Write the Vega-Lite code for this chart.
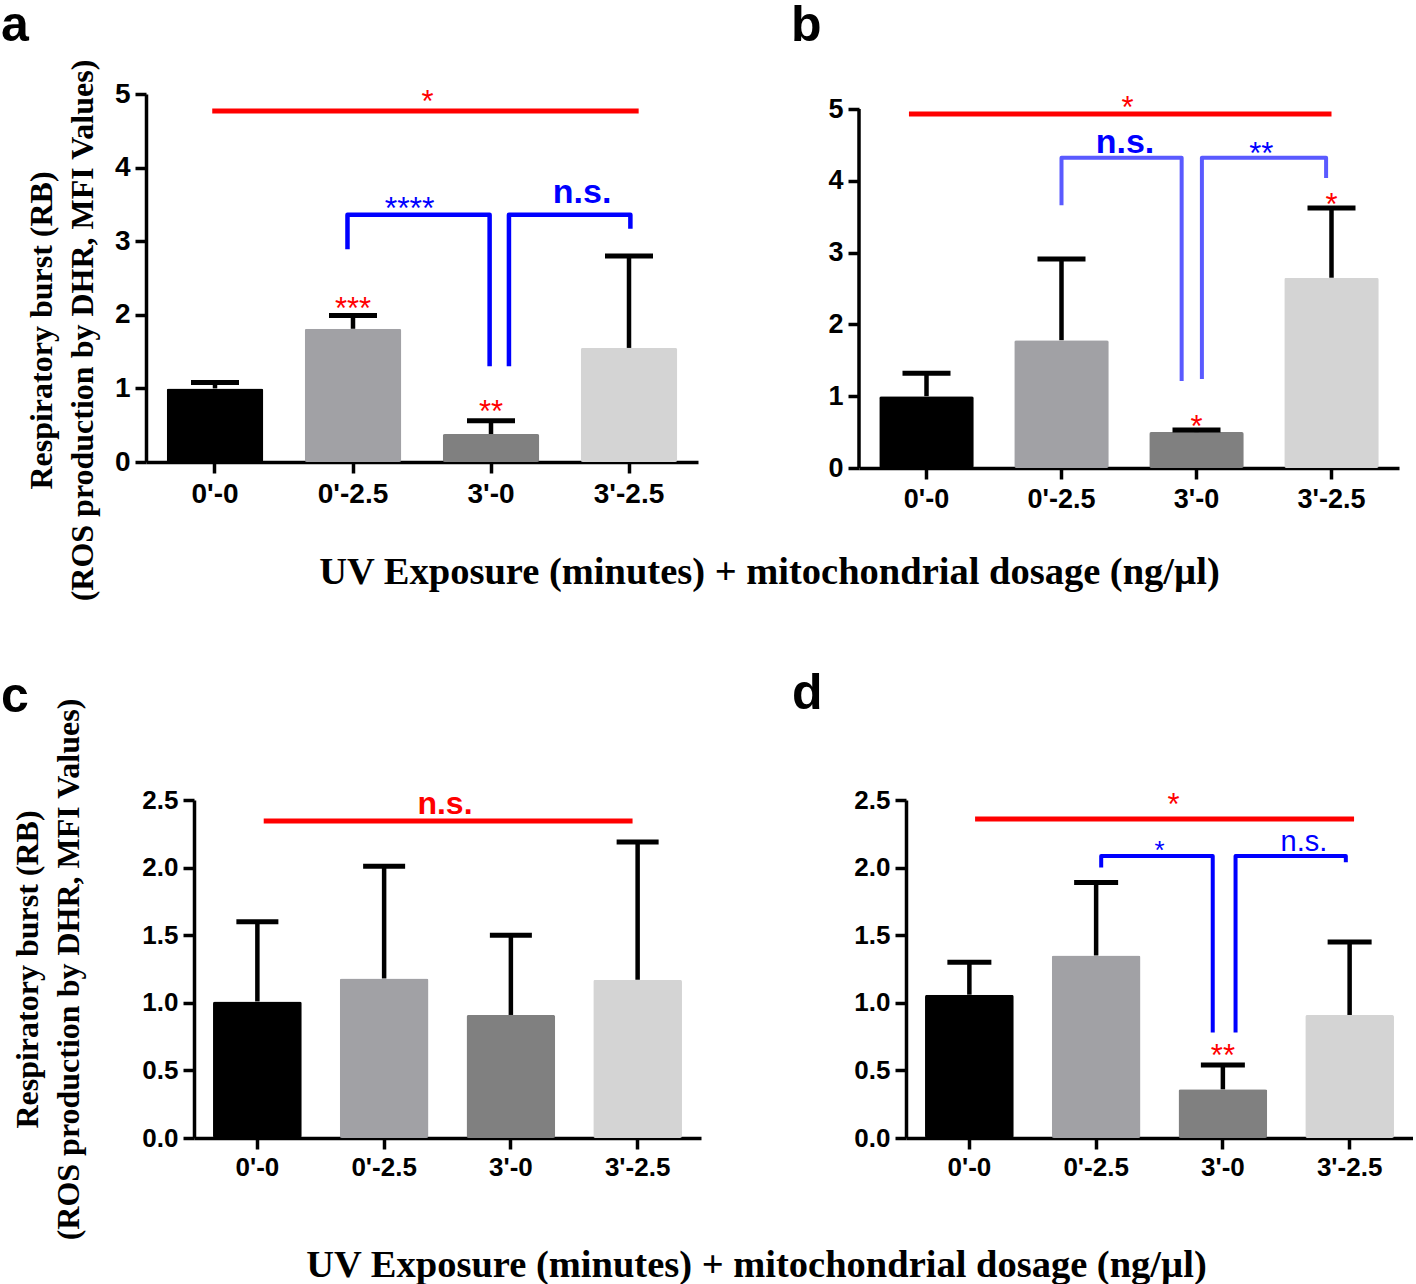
{
  "$schema": "https://vega.github.io/schema/vega-lite/v6.json",
  "background": "white",
  "padding": 0,
  "columns": 1,
  "spacing": 67,
  "datasets": {
    "spacer": [],
    "a_bars": [
      {"cat": "0'-0", "mean": 1.0, "upper": 1.08},
      {"cat": "0'-2.5", "mean": 1.81, "upper": 1.99},
      {"cat": "3'-0", "mean": 0.38, "upper": 0.56},
      {"cat": "3'-2.5", "mean": 1.55, "upper": 2.8}
    ],
    "a_stars": [
      {"cat": "0'-2.5", "y": 1.94, "label": "***"},
      {"cat": "3'-0", "y": 0.54, "label": "**"}
    ],
    "a_line": [{"x": 0.48, "x2": 3.57, "y": 4.77}],
    "a_linetext": [{"x": 2.04, "y": 4.76, "label": "*"}],
    "a_br": [
      {"id": 1, "o": 1, "x": 1.46, "y": 2.89},
      {"id": 1, "o": 2, "x": 1.46, "y": 3.36},
      {"id": 1, "o": 3, "x": 2.49, "y": 3.36},
      {"id": 1, "o": 4, "x": 2.49, "y": 1.3},
      {"id": 2, "o": 1, "x": 2.63, "y": 1.3},
      {"id": 2, "o": 2, "x": 2.63, "y": 3.36},
      {"id": 2, "o": 3, "x": 3.51, "y": 3.36},
      {"id": 2, "o": 4, "x": 3.51, "y": 3.17}
    ],
    "a_brtext": [
      {"x": 1.91, "y": 3.3, "label": "****", "kind": "star"},
      {"x": 3.16, "y": 3.52, "label": "n.s.", "kind": "ns"}
    ],
    "b_bars": [
      {"cat": "0'-0", "mean": 1.0, "upper": 1.32},
      {"cat": "0'-2.5", "mean": 1.78, "upper": 2.91},
      {"cat": "3'-0", "mean": 0.5, "upper": 0.53},
      {"cat": "3'-2.5", "mean": 2.65, "upper": 3.62}
    ],
    "b_stars": [
      {"cat": "3'-0", "y": 0.43, "label": "*"},
      {"cat": "3'-2.5", "y": 3.52, "label": "*"}
    ],
    "b_axis": [{"x": 0, "y": 0, "y2": 5}],
    "b_line": [{"x": 0.37, "x2": 3.5, "y": 4.93}],
    "b_linetext": [{"x": 1.99, "y": 4.87, "label": "*"}],
    "b_br": [
      {"id": 1, "o": 1, "x": 1.5, "y": 3.66},
      {"id": 1, "o": 2, "x": 1.5, "y": 4.32},
      {"id": 1, "o": 3, "x": 2.39, "y": 4.32},
      {"id": 1, "o": 4, "x": 2.39, "y": 1.21},
      {"id": 2, "o": 1, "x": 2.54, "y": 1.24},
      {"id": 2, "o": 2, "x": 2.54, "y": 4.32},
      {"id": 2, "o": 3, "x": 3.46, "y": 4.32},
      {"id": 2, "o": 4, "x": 3.46, "y": 4.04}
    ],
    "b_brtext": [
      {"x": 2.98, "y": 4.24, "label": "**", "kind": "star"},
      {"x": 1.97, "y": 4.39, "label": "n.s.", "kind": "ns"}
    ],
    "c_bars": [
      {"cat": "0'-0", "mean": 1.01, "upper": 1.6},
      {"cat": "0'-2.5", "mean": 1.18, "upper": 2.01},
      {"cat": "3'-0", "mean": 0.91, "upper": 1.5},
      {"cat": "3'-2.5", "mean": 1.17, "upper": 2.19}
    ],
    "c_line": [{"x": 0.55, "x2": 3.46, "y": 2.345}],
    "c_linetext": [{"x": 1.98, "y": 2.4, "label": "n.s."}],
    "d_bars": [
      {"cat": "0'-0", "mean": 1.06, "upper": 1.3},
      {"cat": "0'-2.5", "mean": 1.35, "upper": 1.89},
      {"cat": "3'-0", "mean": 0.36, "upper": 0.54},
      {"cat": "3'-2.5", "mean": 0.91, "upper": 1.45}
    ],
    "d_stars": [{"cat": "3'-0", "y": 0.53, "label": "**"}],
    "d_line": [{"x": 0.545, "x2": 3.535, "y": 2.36}],
    "d_linetext": [{"x": 2.11, "y": 2.39, "label": "*"}],
    "d_br": [
      {"id": 1, "o": 1, "x": 1.54, "y": 2.0},
      {"id": 1, "o": 2, "x": 1.54, "y": 2.085},
      {"id": 1, "o": 3, "x": 2.42, "y": 2.085},
      {"id": 1, "o": 4, "x": 2.42, "y": 0.78},
      {"id": 2, "o": 1, "x": 2.6, "y": 0.78},
      {"id": 2, "o": 2, "x": 2.6, "y": 2.085},
      {"id": 2, "o": 3, "x": 3.47, "y": 2.085},
      {"id": 2, "o": 4, "x": 3.47, "y": 2.04}
    ],
    "d_brtext": [
      {"x": 2.0, "y": 2.06, "label": "*", "kind": "star"},
      {"x": 3.14, "y": 2.12, "label": "n.s.", "kind": "ns"}
    ]
  },
  "concat": [
    {
      "spacing": 0,
      "title": {"text": "UV Exposure (minutes) + mitochondrial dosage (ng/µl)", "orient": "bottom", "anchor": "middle", "offset": -47, "dx": 70, "font": "Liberation Serif", "fontSize": 38.5, "fontWeight": "bold", "color": "#000"},
      "hconcat": [
        {"width": 1, "height": 1, "data": {"name": "spacer"}, "mark": "point"},
        {
          "spacing": 93,
          "hconcat": [
            {
              "width": 552, "height": 368,
              "title": {"text": "a", "anchor": "start", "frame": "group", "dx": -145, "offset": 8},
              "resolve": {"scale": {"x": "independent"}},
              "layer": [
                {
                  "data": {"name": "a_bars"},
                  "encoding": {"x": {"field": "cat", "type": "nominal", "scale": {"domain": ["0'-0", "0'-2.5", "3'-0", "3'-2.5"], "paddingInner": 0.3, "paddingOuter": 0.15}, "axis": {"title": null, "labelFontSize": 28, "labelPadding": 7}}},
                  "layer": [
                    {"mark": {"type": "bar", "cornerRadius": 2}, "encoding": {
                      "y": {"field": "mean", "type": "quantitative", "scale": {"domain": [0, 5], "nice": false}, "axis": {"values": [0, 1, 2, 3, 4, 5], "format": "d", "labelFontSize": 28, "title": ["Respiratory burst (RB)", "(ROS production by DHR, MFI Values)"], "titleX": -88, "titleY": 236}},
                      "color": {"field": "cat", "type": "nominal", "scale": {"domain": ["0'-0", "0'-2.5", "3'-0", "3'-2.5"], "range": ["#000000", "#a1a1a5", "#808080", "#d4d4d4"]}, "legend": null}}},
                    {"mark": {"type": "rule", "strokeWidth": 4.5, "color": "#000"}, "encoding": {"y": {"field": "mean", "type": "quantitative"}, "y2": {"field": "upper"}}},
                    {"mark": {"type": "tick", "size": 48, "thickness": 5, "color": "#000", "opacity": 1}, "encoding": {"y": {"field": "upper", "type": "quantitative"}}},
                    {"data": {"name": "a_stars"}, "mark": {"type": "text", "color": "#ff0000", "fontSize": 31, "baseline": "alphabetic"}, "encoding": {"y": {"field": "y", "type": "quantitative"}, "text": {"field": "label"}}}
                  ]
                },
                {
                  "encoding": {"x": {"field": "x", "type": "quantitative", "scale": {"domain": [0, 4], "nice": false, "zero": false}, "axis": null}},
                  "layer": [
                    {"data": {"name": "a_line"}, "mark": {"type": "rule", "color": "#ff0000", "strokeWidth": 5}, "encoding": {"x2": {"field": "x2"}, "y": {"field": "y", "type": "quantitative"}}},
                    {"data": {"name": "a_linetext"}, "mark": {"type": "text", "color": "#ff0000", "fontSize": 31, "baseline": "alphabetic"}, "encoding": {"y": {"field": "y", "type": "quantitative"}, "text": {"field": "label"}}},
                    {"data": {"name": "a_br"}, "mark": {"type": "line", "color": "#0000ff", "strokeWidth": 4.5, "strokeJoin": "round"}, "encoding": {"y": {"field": "y", "type": "quantitative"}, "detail": {"field": "id"}, "order": {"field": "o"}}},
                    {"data": {"name": "a_brtext"}, "transform": [{"filter": "datum.kind == 'star'"}], "mark": {"type": "text", "color": "#0000ff", "fontSize": 32, "baseline": "alphabetic"}, "encoding": {"y": {"field": "y", "type": "quantitative"}, "text": {"field": "label"}}},
                    {"data": {"name": "a_brtext"}, "transform": [{"filter": "datum.kind == 'ns'"}], "mark": {"type": "text", "color": "#0000ff", "fontSize": 34, "fontWeight": "bold", "baseline": "alphabetic"}, "encoding": {"y": {"field": "y", "type": "quantitative"}, "text": {"field": "label"}}}
                  ]
                }
              ]
            },
            {
              "width": 540, "height": 374,
              "title": {"text": "b", "anchor": "start", "frame": "group", "dx": -68, "offset": 42},
              "resolve": {"scale": {"x": "independent"}},
              "layer": [
                {
                  "data": {"name": "b_bars"},
                  "encoding": {"x": {"field": "cat", "type": "nominal", "scale": {"domain": ["0'-0", "0'-2.5", "3'-0", "3'-2.5"], "paddingInner": 0.3, "paddingOuter": 0.15}, "axis": {"title": null, "labelFontSize": 27, "labelPadding": 7}}},
                  "layer": [
                    {"mark": {"type": "bar", "cornerRadius": 2}, "encoding": {
                      "y": {"field": "mean", "type": "quantitative", "scale": {"domain": [0, 5.209], "nice": false}, "axis": {"values": [0, 1, 2, 3, 4, 5], "format": "d", "labelFontSize": 27, "title": null, "domain": false}},
                      "color": {"field": "cat", "type": "nominal", "scale": {"domain": ["0'-0", "0'-2.5", "3'-0", "3'-2.5"], "range": ["#000000", "#a1a1a5", "#808080", "#d4d4d4"]}, "legend": null}}},
                    {"mark": {"type": "rule", "strokeWidth": 4.5, "color": "#000"}, "encoding": {"y": {"field": "mean", "type": "quantitative"}, "y2": {"field": "upper"}}},
                    {"mark": {"type": "tick", "size": 48, "thickness": 5, "color": "#000", "opacity": 1}, "encoding": {"y": {"field": "upper", "type": "quantitative"}}},
                    {"data": {"name": "b_stars"}, "mark": {"type": "text", "color": "#ff0000", "fontSize": 31, "baseline": "alphabetic"}, "encoding": {"y": {"field": "y", "type": "quantitative"}, "text": {"field": "label"}}}
                  ]
                },
                {
                  "encoding": {"x": {"field": "x", "type": "quantitative", "scale": {"domain": [0, 4], "nice": false, "zero": false}, "axis": null}},
                  "layer": [
                    {"data": {"name": "b_axis"}, "mark": {"type": "rule", "color": "#000", "strokeWidth": 3.5}, "encoding": {"y": {"field": "y", "type": "quantitative"}, "y2": {"field": "y2"}}},
                    {"data": {"name": "b_line"}, "mark": {"type": "rule", "color": "#ff0000", "strokeWidth": 5}, "encoding": {"x2": {"field": "x2"}, "y": {"field": "y", "type": "quantitative"}}},
                    {"data": {"name": "b_linetext"}, "mark": {"type": "text", "color": "#ff0000", "fontSize": 31, "baseline": "alphabetic"}, "encoding": {"y": {"field": "y", "type": "quantitative"}, "text": {"field": "label"}}},
                    {"data": {"name": "b_br"}, "mark": {"type": "line", "color": "#5a5aff", "strokeWidth": 4, "strokeJoin": "round"}, "encoding": {"y": {"field": "y", "type": "quantitative"}, "detail": {"field": "id"}, "order": {"field": "o"}}},
                    {"data": {"name": "b_brtext"}, "transform": [{"filter": "datum.kind == 'star'"}], "mark": {"type": "text", "color": "#0000ff", "fontSize": 31, "baseline": "alphabetic"}, "encoding": {"y": {"field": "y", "type": "quantitative"}, "text": {"field": "label"}}},
                    {"data": {"name": "b_brtext"}, "transform": [{"filter": "datum.kind == 'ns'"}], "mark": {"type": "text", "color": "#0000ff", "fontSize": 34, "fontWeight": "bold", "baseline": "alphabetic"}, "encoding": {"y": {"field": "y", "type": "quantitative"}, "text": {"field": "label"}}}
                  ]
                }
              ]
            }
          ]
        }
      ]
    },
    {
      "spacing": 0,
      "title": {"text": "UV Exposure (minutes) + mitochondrial dosage (ng/µl)", "orient": "bottom", "anchor": "middle", "offset": 7, "dx": 50, "font": "Liberation Serif", "fontSize": 38.5, "fontWeight": "bold", "color": "#000"},
      "hconcat": [
        {"width": 1, "height": 1, "data": {"name": "spacer"}, "mark": "point"},
        {
          "spacing": 91,
          "hconcat": [
            {
              "width": 507, "height": 338,
              "title": {"text": "c", "anchor": "start", "frame": "group", "dx": -193, "offset": -24},
              "resolve": {"scale": {"x": "independent"}},
              "layer": [
                {
                  "data": {"name": "c_bars"},
                  "encoding": {"x": {"field": "cat", "type": "nominal", "scale": {"domain": ["0'-0", "0'-2.5", "3'-0", "3'-2.5"], "paddingInner": 0.3, "paddingOuter": 0.15}, "axis": {"title": null, "labelFontSize": 26, "labelPadding": 5}}},
                  "layer": [
                    {"mark": {"type": "bar", "cornerRadius": 2}, "encoding": {
                      "y": {"field": "mean", "type": "quantitative", "scale": {"domain": [0, 2.5], "nice": false}, "axis": {"values": [0, 0.5, 1, 1.5, 2, 2.5], "format": ".1f", "labelFontSize": 26, "title": ["Respiratory burst (RB)", "(ROS production by DHR, MFI Values)"], "titleX": -150}},
                      "color": {"field": "cat", "type": "nominal", "scale": {"domain": ["0'-0", "0'-2.5", "3'-0", "3'-2.5"], "range": ["#000000", "#a1a1a5", "#808080", "#d4d4d4"]}, "legend": null}}},
                    {"mark": {"type": "rule", "strokeWidth": 4.5, "color": "#000"}, "encoding": {"y": {"field": "mean", "type": "quantitative"}, "y2": {"field": "upper"}}},
                    {"mark": {"type": "tick", "size": 42, "thickness": 5, "color": "#000", "opacity": 1}, "encoding": {"y": {"field": "upper", "type": "quantitative"}}}
                  ]
                },
                {
                  "encoding": {"x": {"field": "x", "type": "quantitative", "scale": {"domain": [0, 4], "nice": false, "zero": false}, "axis": null}},
                  "layer": [
                    {"data": {"name": "c_line"}, "mark": {"type": "rule", "color": "#ff0000", "strokeWidth": 5}, "encoding": {"x2": {"field": "x2"}, "y": {"field": "y", "type": "quantitative"}}},
                    {"data": {"name": "c_linetext"}, "mark": {"type": "text", "color": "#ff0000", "fontSize": 32, "fontWeight": "bold", "baseline": "alphabetic"}, "encoding": {"y": {"field": "y", "type": "quantitative"}, "text": {"field": "label"}}}
                  ]
                }
              ]
            },
            {
              "width": 507, "height": 338,
              "title": {"text": "d", "anchor": "start", "frame": "group", "dx": -114, "offset": 68},
              "resolve": {"scale": {"x": "independent"}},
              "layer": [
                {
                  "data": {"name": "d_bars"},
                  "encoding": {"x": {"field": "cat", "type": "nominal", "scale": {"domain": ["0'-0", "0'-2.5", "3'-0", "3'-2.5"], "paddingInner": 0.3, "paddingOuter": 0.15}, "axis": {"title": null, "labelFontSize": 26, "labelPadding": 5}}},
                  "layer": [
                    {"mark": {"type": "bar", "cornerRadius": 2}, "encoding": {
                      "y": {"field": "mean", "type": "quantitative", "scale": {"domain": [0, 2.5], "nice": false}, "axis": {"values": [0, 0.5, 1, 1.5, 2, 2.5], "format": ".1f", "labelFontSize": 26, "title": null}},
                      "color": {"field": "cat", "type": "nominal", "scale": {"domain": ["0'-0", "0'-2.5", "3'-0", "3'-2.5"], "range": ["#000000", "#a1a1a5", "#808080", "#d4d4d4"]}, "legend": null}}},
                    {"mark": {"type": "rule", "strokeWidth": 4.5, "color": "#000"}, "encoding": {"y": {"field": "mean", "type": "quantitative"}, "y2": {"field": "upper"}}},
                    {"mark": {"type": "tick", "size": 44, "thickness": 5, "color": "#000", "opacity": 1}, "encoding": {"y": {"field": "upper", "type": "quantitative"}}},
                    {"data": {"name": "d_stars"}, "mark": {"type": "text", "color": "#ff0000", "fontSize": 31, "baseline": "alphabetic"}, "encoding": {"y": {"field": "y", "type": "quantitative"}, "text": {"field": "label"}}}
                  ]
                },
                {
                  "encoding": {"x": {"field": "x", "type": "quantitative", "scale": {"domain": [0, 4], "nice": false, "zero": false}, "axis": null}},
                  "layer": [
                    {"data": {"name": "d_line"}, "mark": {"type": "rule", "color": "#ff0000", "strokeWidth": 5}, "encoding": {"x2": {"field": "x2"}, "y": {"field": "y", "type": "quantitative"}}},
                    {"data": {"name": "d_linetext"}, "mark": {"type": "text", "color": "#ff0000", "fontSize": 31, "baseline": "alphabetic"}, "encoding": {"y": {"field": "y", "type": "quantitative"}, "text": {"field": "label"}}},
                    {"data": {"name": "d_br"}, "mark": {"type": "line", "color": "#0000ff", "strokeWidth": 4, "strokeJoin": "round"}, "encoding": {"y": {"field": "y", "type": "quantitative"}, "detail": {"field": "id"}, "order": {"field": "o"}}},
                    {"data": {"name": "d_brtext"}, "transform": [{"filter": "datum.kind == 'star'"}], "mark": {"type": "text", "color": "#0000ff", "fontSize": 26, "baseline": "alphabetic"}, "encoding": {"y": {"field": "y", "type": "quantitative"}, "text": {"field": "label"}}},
                    {"data": {"name": "d_brtext"}, "transform": [{"filter": "datum.kind == 'ns'"}], "mark": {"type": "text", "color": "#0000ff", "fontSize": 29, "baseline": "alphabetic"}, "encoding": {"y": {"field": "y", "type": "quantitative"}, "text": {"field": "label"}}}
                  ]
                }
              ]
            }
          ]
        }
      ]
    }
  ],
  "config": {
    "view": {"stroke": null},
    "axis": {"domainColor": "#000", "domainWidth": 3.5, "tickColor": "#000", "tickWidth": 3.5, "tickSize": 11, "grid": false, "labelFont": "Liberation Sans", "labelFontWeight": "bold", "labelColor": "#000", "titleFont": "Liberation Serif", "titleFontWeight": "bold", "titleFontSize": 32, "titleColor": "#000", "titleLineHeight": 41},
    "axisY": {"labelPadding": 5},
    "axisX": {"labelAngle": 0},
    "title": {"font": "Liberation Sans", "fontWeight": "bold", "fontSize": 50, "color": "#000"},
    "text": {"font": "Liberation Sans", "align": "center"}
  }
}
